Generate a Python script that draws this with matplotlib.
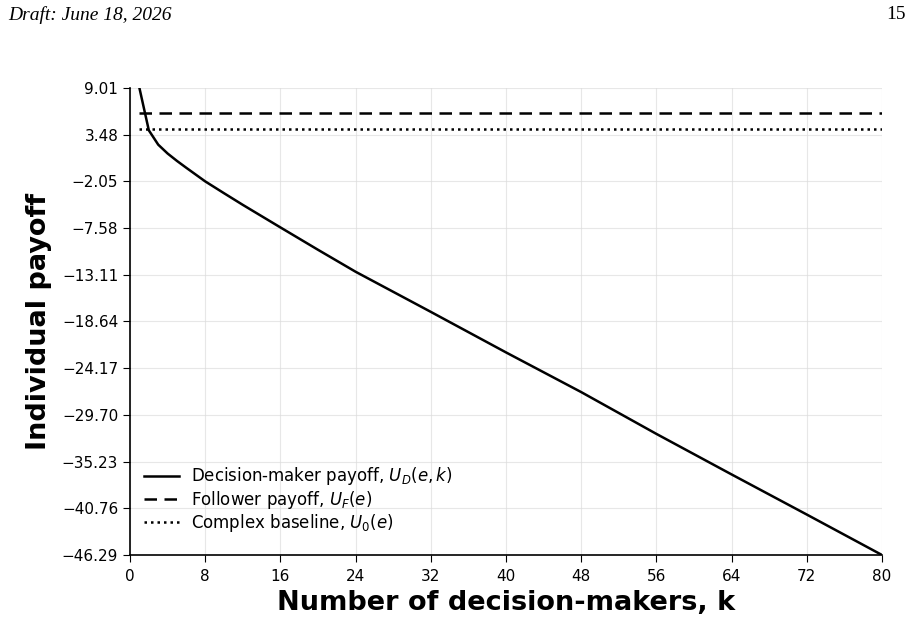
import numpy as np
import matplotlib
matplotlib.use("Agg")
import matplotlib.pyplot as plt
from matplotlib.ticker import FuncFormatter

# values
k = [1, 2, 3, 4, 5, 6, 7, 8, 10, 12, 16, 20, 24, 32, 40, 48, 56, 64, 72, 80]
u_dm = [9.01, 4.0, 2.3, 1.25, 0.37, -0.45, -1.25, -2.05, -3.45, -4.83, -7.5,
        -10.15, -12.75, -17.5, -22.3, -27.0, -31.95, -36.75, -41.5, -46.29]
u_follower = 6.05
u_baseline = 4.15
xticks = [0, 8, 16, 24, 32, 40, 48, 56, 64, 72, 80]

fig = plt.figure(figsize=(9.15, 6.21), dpi=100)
ax = fig.add_axes([0.1421, 0.1063, 0.8218, 0.752])

ax.plot(k, u_dm, color='k', lw=1.8, ls='-', label=r'Decision-maker payoff, $U_D(e,k)$')
ax.plot([k[0], k[-1]], [u_follower, u_follower], color='k', lw=1.8, ls=(0, (5, 3)),
        label=r'Follower payoff, $U_F(e)$')
ax.plot([k[0], k[-1]], [u_baseline, u_baseline], color='k', lw=1.8, ls=(0, (1, 1.6)),
        label=r'Complex baseline, $U_0(e)$')

ymin, ymax = min(u_dm), max(u_dm)
ax.set_ylim(ymin, ymax)
ax.set_xlim(0, 80)
ax.set_yticks(np.linspace(ymin, ymax, 11))
ax.set_xticks(xticks)
ax.yaxis.set_major_formatter(FuncFormatter(lambda v, p: f"{v:.2f}".replace('-', '\u2212')))
ax.tick_params(labelsize=11, length=5)
ax.tick_params(axis='x', pad=5)

ax.grid(True, color='#dddddd', lw=0.8, alpha=0.7)
ax.spines['top'].set_visible(False)
ax.spines['right'].set_visible(False)
ax.spines['left'].set_linewidth(1.2)
ax.spines['bottom'].set_linewidth(1.2)

ax.set_xlabel('Number of decision-makers, k', fontsize=19.5, fontweight='bold', labelpad=4.5)
ax.set_ylabel('Individual payoff', fontsize=19.5, fontweight='bold', labelpad=7)
ax.legend(loc='lower left', bbox_to_anchor=(-0.003, 0.009), frameon=False, fontsize=12,
          handlelength=2.1, handletextpad=0.7, labelspacing=0.08, borderaxespad=0.6)

fig.text(0.009, 0.99, 'Draft: June 18, 2026', family='Liberation Serif', style='italic',
         fontsize=14, va='top', ha='left')
fig.text(0.99, 0.99, '15', family='Liberation Serif', fontsize=14, va='top', ha='right')

fig.savefig('out.png', dpi=100)
